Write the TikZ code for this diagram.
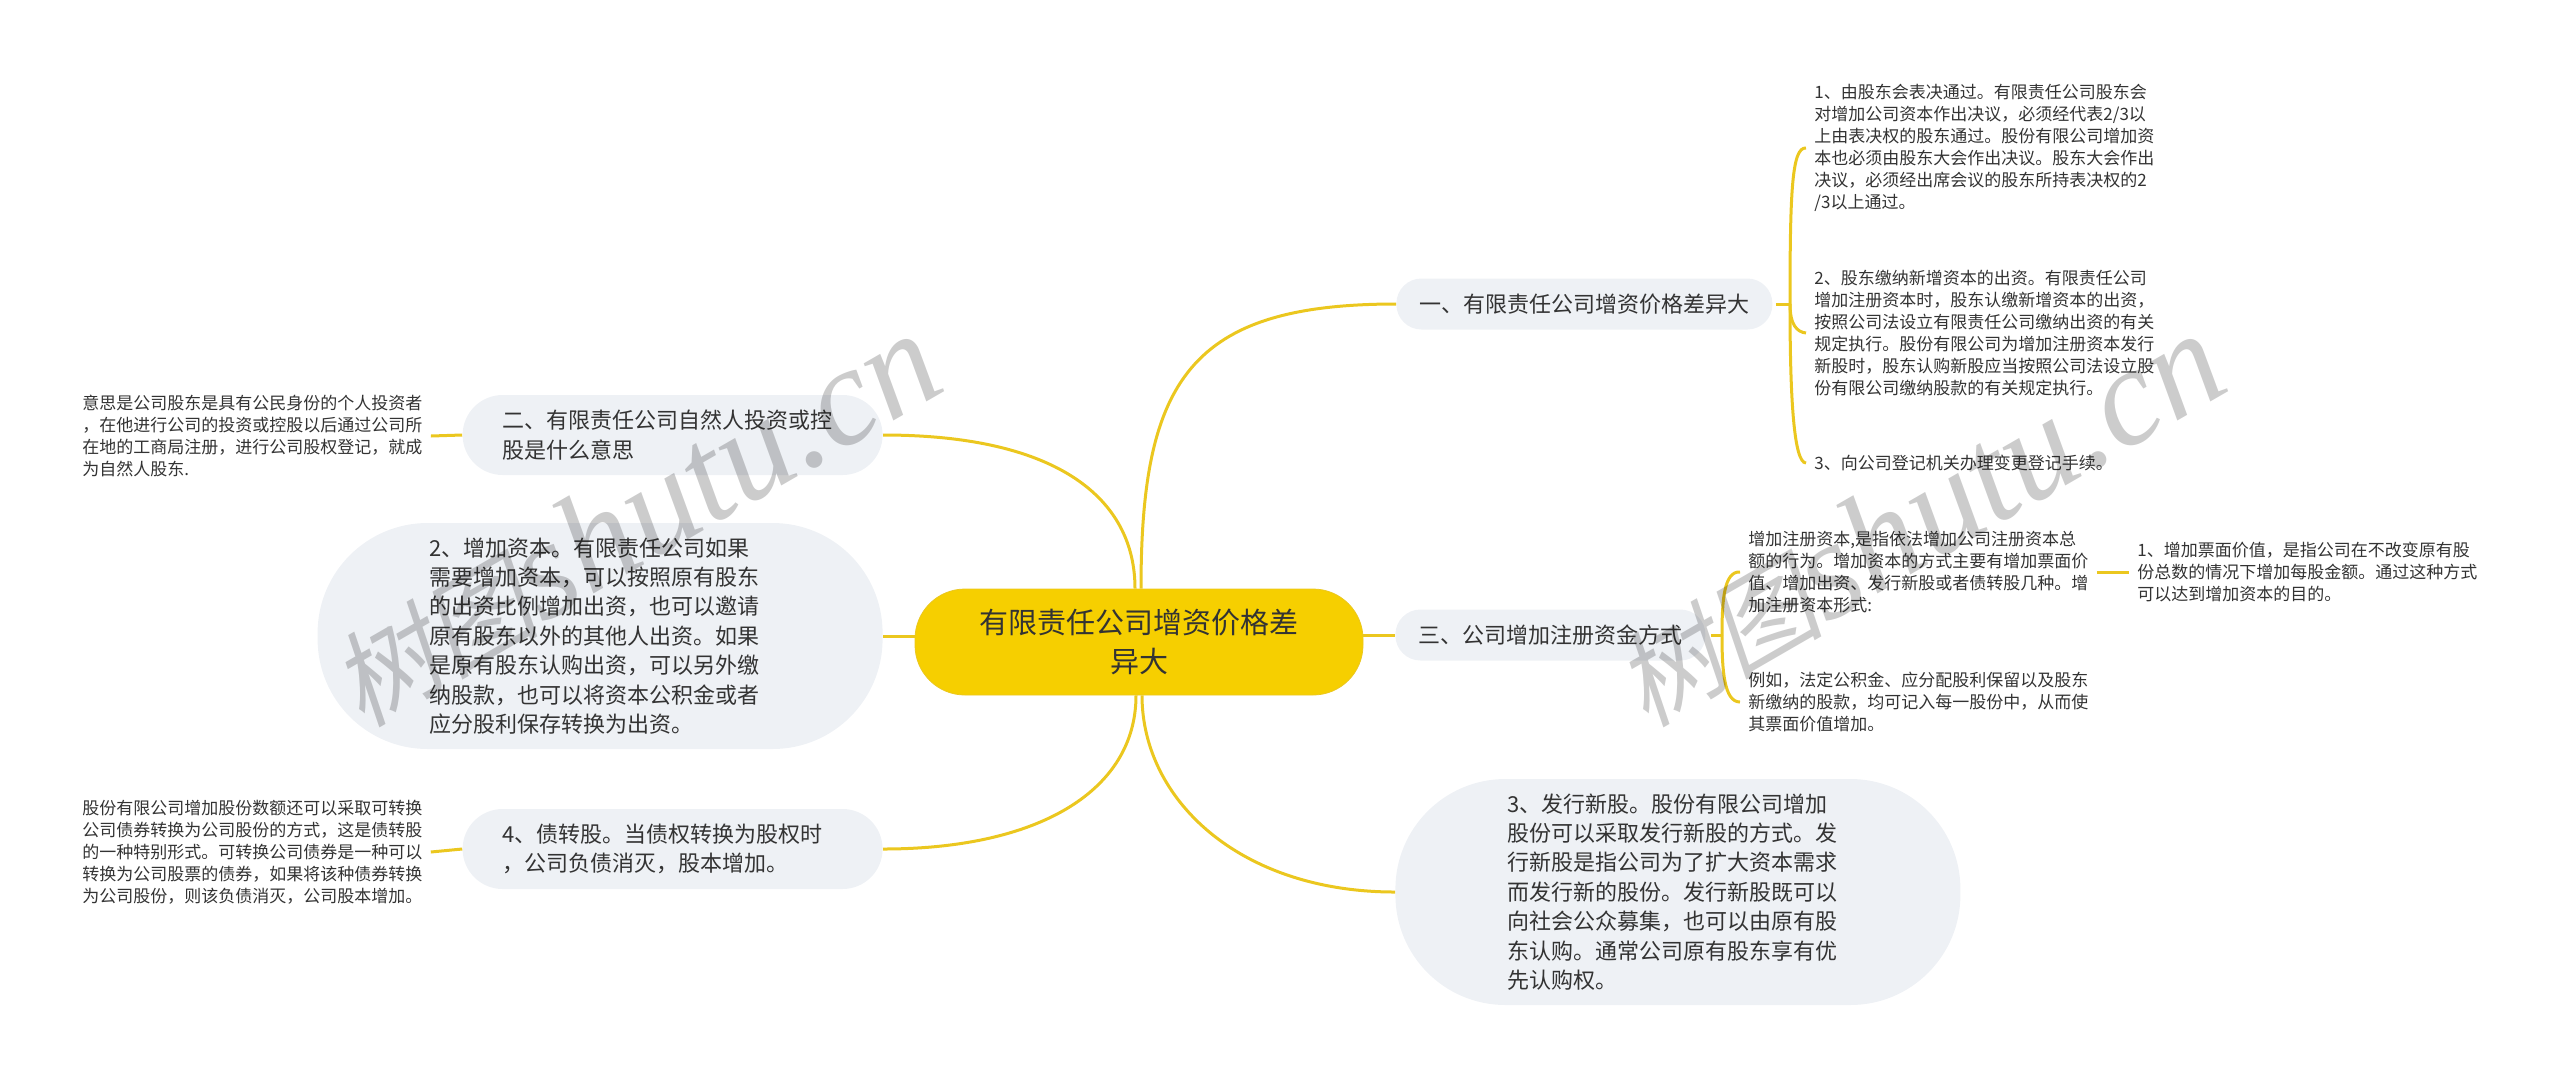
\documentclass[tikz,border=0pt]{standalone}
\usepackage{fontspec}
\setmainfont{Noto Sans CJK SC}
\newfontfamily\wmcjk[FakeSlant=0.2]{Noto Sans CJK SC}
\newfontfamily\wmlatin{Liberation Serif}
\usepackage{xcolor}
\usepackage{tikz}
\definecolor{rootyellow}{HTML}{F6CF00}
\definecolor{linkyellow}{HTML}{EBC71F}
\definecolor{bubblegrey}{HTML}{EEF1F5}
\definecolor{inkgrey}{HTML}{333333}
\tikzset{
  root/.style={fill=rootyellow,draw=linkyellow,rounded corners=25pt,minimum width=224pt,minimum height=53pt,
    align=center,text=inkgrey,font=\fontsize{14.5}{19.5}\selectfont},
  topic/.style={fill=bubblegrey,rounded corners=12.5pt,minimum height=25.5pt,inner xsep=11.5pt,inner ysep=0pt,
    text=inkgrey,font=\fontsize{11}{14.7}\selectfont},
  wide/.style={fill=bubblegrey,rounded corners=20pt,text width=170pt,minimum height=40pt,inner xsep=20pt,inner ysep=0pt,
    align=left,text=inkgrey,font=\fontsize{11}{14.7}\selectfont},
  blob/.style={fill=bubblegrey,rounded corners=55pt,text width=170.5pt,minimum height=113pt,inner xsep=56pt,inner ysep=0pt,
    align=left,text=inkgrey,font=\fontsize{11}{14.7}\selectfont},
  note/.style={inner xsep=4pt,inner ysep=0pt,align=left,text=inkgrey,font=\fontsize{8.5}{11}\selectfont},
  link/.style={draw=linkyellow,line width=1.5pt},
  wmark/.style={rotate=30,text=black,opacity=.2}
}
\newcommand{\wmtext}{{\fontsize{52}{60}\selectfont\wmcjk 树图}{\fontsize{70}{60}\selectfont\wmlatin\itshape shutu.cn}}

\begin{document}
\begin{tikzpicture}[x=0.5pt,y=-0.5pt]
        \useasboundingbox (0,0) rectangle (2560,1078);

        \node[root] (root) at (1139,642) {有限责任公司增资价格差\\异大};

        \node[topic,anchor=west] (yi) at (1396,304) {一、有限责任公司增资价格差异大};
        \node[note,anchor=west] (yia) at (1806,148) {1、由股东会表决通过。有限责任公司股东会\\对增加公司资本作出决议，必须经代表2/3以\\上由表决权的股东通过。股份有限公司增加资\\本也必须由股东大会作出决议。股东大会作出\\决议，必须经出席会议的股东所持表决权的2\\/3以上通过。};
        \node[note,anchor=west] (yib) at (1806,333) {2、股东缴纳新增资本的出资。有限责任公司\\增加注册资本时，股东认缴新增资本的出资，\\按照公司法设立有限责任公司缴纳出资的有关\\规定执行。股份有限公司为增加注册资本发行\\新股时，股东认购新股应当按照公司法设立股\\份有限公司缴纳股款的有关规定执行。};
        \node[note,anchor=west] (yic) at (1806,463) {3、向公司登记机关办理变更登记手续。};

        \node[wide,anchor=east] (er) at (883,435) {二、有限责任公司自然人投资或控\\股是什么意思};
        \node[note,anchor=west] (era) at (74,436) {意思是公司股东是具有公民身份的个人投资者\\，在他进行公司的投资或控股以后通过公司所\\在地的工商局注册，进行公司股权登记，就成\\为自然人股东.};

        \node[topic,anchor=west] (san) at (1395,635) {三、公司增加注册资金方式};
        \node[note,anchor=west] (sana) at (1740,572) {增加注册资本,是指依法增加公司注册资本总\\额的行为。增加资本的方式主要有增加票面价\\值、增加出资、发行新股或者债转股几种。增\\加注册资本形式:};
        \node[note,anchor=west] (sanb) at (1740,702) {例如，法定公积金、应分配股利保留以及股东\\新缴纳的股款，均可记入每一股份中，从而使\\其票面价值增加。};
        \node[note,anchor=west] (sanc) at (2129,572) {1、增加票面价值，是指公司在不改变原有股\\份总数的情况下增加每股金额。通过这种方式\\可以达到增加资本的目的。};

        \node[blob,anchor=east] (zengjia) at (883,636) {2、增加资本。有限责任公司如果\\需要增加资本，可以按照原有股东\\的出资比例增加出资，也可以邀请\\原有股东以外的其他人出资。如果\\是原有股东认购出资，可以另外缴\\纳股款，也可以将资本公积金或者\\应分股利保存转换为出资。};
        \node[blob,anchor=west] (faxing) at (1395,892) {3、发行新股。股份有限公司增加\\股份可以采取发行新股的方式。发\\行新股是指公司为了扩大资本需求\\而发行新的股份。发行新股既可以\\向社会公众募集，也可以由原有股\\东认购。通常公司原有股东享有优\\先认购权。};

        \node[wide,anchor=east] (zhai) at (883,849) {4、债转股。当债权转换为股权时\\，公司负债消灭，股本增加。};
        \node[note,anchor=west] (zhaia) at (74,852) {股份有限公司增加股份数额还可以采取可转换\\公司债券转换为公司股份的方式，这是债转股\\的一种特别形式。可转换公司债券是一种可以\\转换为公司股票的债券，如果将该种债券转换\\为公司股份，则该负债消灭，公司股本增加。};

        \draw[link] ([xshift=1pt]root.north) .. controls (1141,380) and (1190,304) .. (yi.west);
        \draw[link] ([xshift=-2pt]root.north) .. controls (1135,500) and (1060,435) .. (er.east);
        \draw[link] (san.west) -- (san.west -| root.east);
        \draw[link] (zengjia.east) -- (zengjia.east -| root.west);
        \draw[link] ([xshift=-1.5pt]root.south) .. controls (1136,790) and (1040,849) .. (zhai.east);
        \draw[link] ([xshift=1.5pt]root.south) .. controls (1142,800) and (1240,892) .. (faxing.west);

        \coordinate (yihub) at (1790,304);
        \draw[link,shorten <=1.5pt] (yi.east) -- (yihub);
        \draw[link] (yihub) .. controls (1790,190) and (1792,147) .. (yia.west);
        \draw[link] (yihub) .. controls (1790,325) and (1797,332) .. (yib.west);
        \draw[link] (yihub) .. controls (1790,400) and (1794,463) .. (yic.west);

        \coordinate (sanhub) at (1722,635);
        \draw[link,shorten <=2.5pt] (san.east) -- (sanhub);
        \draw[link] (sanhub) .. controls (1722,600) and (1724,571) .. (sana.west);
        \draw[link] (sanhub) .. controls (1722,670) and (1724,702) .. (sanb.west);
        \draw[link] (sana.east) -- (sanc.west);

        \draw[link] (er.west) -- (era.east);
        \draw[link] (zhai.west) -- (zhaia.east);

        \node[wmark] (marka) at (634,520) {\wmtext};
        \node[wmark] (markb) at (1918,520) {\wmtext};
\end{tikzpicture}
\end{document}
